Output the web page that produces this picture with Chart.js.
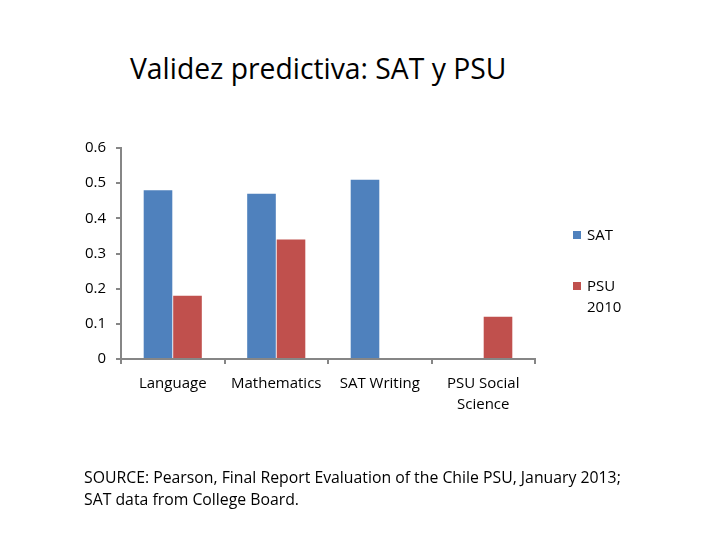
<!DOCTYPE html>
<html>
<head>
<meta charset="utf-8">
<script src="https://cdn.jsdelivr.net/npm/chart.js@4"></script>
<style>
  body { margin: 0; background: #fff; }
  #wrap { position: relative; width: 720px; height: 540px; font-family: "Open Sans", sans-serif; color: #000; }
  #chartBox { position: absolute; left: 0; top: 0; width: 720px; height: 540px; }
  .title { position: absolute; left: 130px; top: 49px; font-size: 28.3px; white-space: nowrap; }
  .legend { position: absolute; left: 573px; font-size: 15px; line-height: 21px; }
  .legend span.sw { position: absolute; left: 0; top: 7px; width: 8px; height: 8px; }
  .legend div { padding-left: 14px; }
  .source { position: absolute; left: 84px; top: 466px; font-size: 15.8px; line-height: 22px; white-space: nowrap; }
</style>
</head>
<body>
<div id="wrap">
  <div class="title">Validez predictiva: SAT y PSU</div>
  <div id="chartBox"><canvas id="c"></canvas></div>
  <div class="legend" style="top:224px"><span class="sw" style="background:#4F81BD"></span><div>SAT</div></div>
  <div class="legend" style="top:275px"><span class="sw" style="background:#C0504D"></span><div>PSU<br>2010</div></div>
  <div class="source">SOURCE: Pearson, Final Report Evaluation of the Chile PSU, January 2013;<br>SAT data from College Board.</div>
</div>
<script>
// ——— data ———
const categories = ["Language", "Mathematics", "SAT Writing", ["PSU Social", "Science"]];
const satValues = [0.48, 0.47, 0.51, null];
const psuValues = [0.18, 0.34, null, 0.12];

const axisColor = "#868686";
const tickFont = { family: "Open Sans", size: 15, lineHeight: 1.4 };

new Chart(document.getElementById("c"), {
  type: "bar",
  data: {
    labels: categories,
    datasets: [
      { label: "SAT", data: satValues, backgroundColor: "#4F81BD" },
      { label: "PSU 2010", data: psuValues, backgroundColor: "#C0504D" },
    ],
  },
  options: {
    responsive: true,
    maintainAspectRatio: false,
    animation: false,
    categoryPercentage: 0.57,
    barPercentage: 0.97,
    layout: { padding: { left: 0, top: 148, right: 185, bottom: 121 } },
    plugins: { legend: { display: false }, tooltip: { enabled: false } },
    scales: {
      y: {
        min: 0,
        max: 0.6,
        afterFit: (s) => { s.width = 121; },
        ticks: { stepSize: 0.1, color: "#000", font: tickFont, padding: 10,
                 callback: (v) => +v.toFixed(1) },
        grid: { drawOnChartArea: false, drawTicks: true, tickLength: 5, color: axisColor, lineWidth: 2 },
        border: { color: axisColor, width: 2 },
      },
      x: {
        afterFit: (s) => { s.height = 60; },
        ticks: { color: "#000", font: tickFont, padding: 9, maxRotation: 0 },
        grid: { drawOnChartArea: false, drawTicks: true, tickLength: 5, color: axisColor, lineWidth: 2, offset: true },
        border: { color: axisColor, width: 2 },
      },
    },
  },
});
</script>
</body>
</html>
